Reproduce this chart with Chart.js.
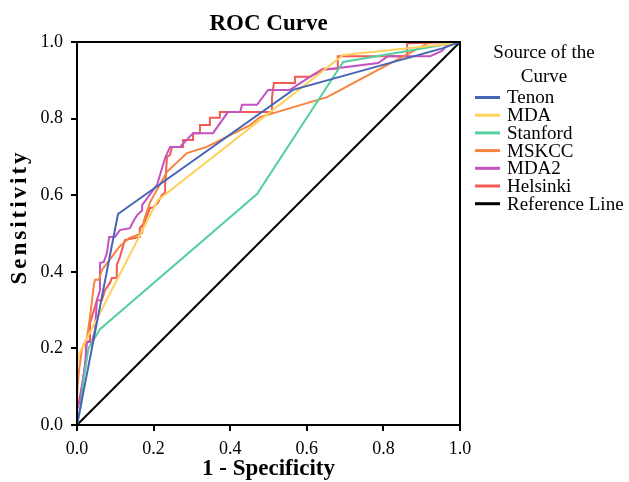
<!DOCTYPE html>
<html>
<head>
<meta charset="utf-8">
<script src="https://cdn.jsdelivr.net/npm/chart.js@4.4.1/dist/chart.umd.min.js"></script>
<style>
  body { margin: 0; background: #fff; }
</style>
</head>
<body>
<canvas id="rocChart" width="629" height="482"></canvas>
<script>
// ROC points as [1 - specificity, sensitivity]
const tenon = [[0, 0], [0.107, 0.551], [0.564, 0.875], [0.956, 0.984], [1, 1]];
const mda = [[0, 0], [0, 0.16], [0.008, 0.191], [0.211, 0.587], [0.695, 0.966], [0.97, 0.995], [1, 1]];
const stanford = [[0, 0], [0.01, 0.05], [0.016, 0.11], [0.03, 0.2], [0.06, 0.25], [0.47, 0.603], [0.695, 0.948], [1, 1]];
const mskcc = [[0, 0], [0, 0.08], [0.005, 0.14], [0.013, 0.2], [0.026, 0.227], [0.034, 0.282], [0.044, 0.366],
  [0.047, 0.379], [0.057, 0.379], [0.065, 0.405], [0.091, 0.439], [0.11, 0.465], [0.136, 0.488], [0.17, 0.501],
  [0.175, 0.535], [0.191, 0.582], [0.235, 0.661], [0.287, 0.71], [0.339, 0.726], [0.452, 0.783], [0.478, 0.804],
  [0.653, 0.856], [0.922, 1.0], [1, 1]];
const mda2 = [[0, 0], [0, 0.039], [0.008, 0.065], [0.013, 0.104], [0.021, 0.157], [0.026, 0.217], [0.039, 0.217],
  [0.047, 0.248], [0.052, 0.326], [0.06, 0.352], [0.06, 0.423], [0.07, 0.426], [0.078, 0.449], [0.084, 0.491],
  [0.099, 0.491], [0.112, 0.509], [0.138, 0.514], [0.149, 0.535], [0.157, 0.548], [0.17, 0.56], [0.17, 0.574],
  [0.209, 0.627], [0.23, 0.697], [0.243, 0.726], [0.269, 0.726], [0.303, 0.762], [0.355, 0.762], [0.394, 0.817],
  [0.426, 0.817], [0.431, 0.836], [0.47, 0.836], [0.499, 0.875], [0.556, 0.875], [0.608, 0.909], [0.642, 0.927],
  [0.786, 0.945], [0.812, 0.963], [0.922, 0.963], [0.953, 0.977], [0.966, 0.992], [1, 1]];
const helsinki = [[0, 0], [0, 0.039], [0.008, 0.078], [0.016, 0.117], [0.023, 0.17], [0.023, 0.214], [0.034, 0.222],
  [0.034, 0.266], [0.052, 0.326], [0.065, 0.326], [0.073, 0.352], [0.086, 0.371], [0.091, 0.384], [0.104, 0.384],
  [0.104, 0.418], [0.112, 0.439], [0.125, 0.483], [0.164, 0.491], [0.164, 0.514], [0.175, 0.527], [0.191, 0.567],
  [0.198, 0.567], [0.211, 0.58], [0.222, 0.601], [0.23, 0.606], [0.23, 0.627], [0.235, 0.7], [0.243, 0.705],
  [0.248, 0.726], [0.277, 0.726], [0.277, 0.744], [0.303, 0.744], [0.303, 0.762], [0.321, 0.762], [0.321, 0.783],
  [0.347, 0.783], [0.347, 0.802], [0.373, 0.802], [0.373, 0.817], [0.509, 0.817], [0.509, 0.854], [0.514, 0.893],
  [0.569, 0.893], [0.569, 0.909], [0.608, 0.909], [0.642, 0.93], [0.681, 0.93], [0.681, 0.963], [0.862, 0.963],
  [0.862, 0.997], [1, 1]];
const referenceLine = [[0, 0], [1, 1]];

const seriesNames = ['Tenon', 'MDA', 'Stanford', 'MSKCC', 'MDA2', 'Helsinki', 'Reference Line'];
const seriesPoints = [tenon, mda, stanford, mskcc, mda2, helsinki, referenceLine];
const seriesColors = ['#4666b5', '#fdd25c', '#55cfa0', '#f7843e', '#c452c0', '#f25a55', '#000000'];
const axisTicks = [0, 0.2, 0.4, 0.6, 0.8, 1.0];

const serif = "'Liberation Serif', 'Times New Roman', serif";

// box around the plot area
const plotBox = {
  id: 'plotBox',
  afterDraw(chart) {
    const a = chart.chartArea;
    const c = chart.ctx;
    c.save();
    c.strokeStyle = '#000';
    c.lineWidth = 2;
    c.strokeRect(a.left, a.top, a.right - a.left, a.bottom - a.top);
    c.restore();
  }
};

// y title drawn by hand, the original is spaced out
const yTitle = {
  id: 'yTitle',
  afterDraw(chart) {
    const c = chart.ctx;
    c.save();
    c.translate(20, 217);
    c.rotate(-Math.PI / 2);
    c.fillStyle = '#000';
    c.font = 'bold 23px ' + serif;
    c.letterSpacing = '3px';
    c.textAlign = 'center';
    c.textBaseline = 'middle';
    c.fillText('Sensitivity', 0, 0);
    c.restore();
  }
};

// legend on the right, with a two line title
const sideLegend = {
  id: 'sideLegend',
  afterDraw(chart) {
    const c = chart.ctx;
    c.save();
    c.fillStyle = '#000';
    c.font = '19px ' + serif;
    c.textAlign = 'center';
    c.textBaseline = 'middle';
    c.fillText('Source of the', 544, 53);
    c.fillText('Curve', 544, 77);
    c.textAlign = 'left';
    chart.data.datasets.forEach((ds, i) => {
      const y = 97.5 + i * 17.7;
      c.strokeStyle = ds.borderColor;
      c.lineWidth = 3;
      c.beginPath();
      c.moveTo(475, y);
      c.lineTo(500, y);
      c.stroke();
      c.fillText(ds.label, 507, y + 1);
    });
    c.restore();
  }
};

const ctx = document.getElementById('rocChart').getContext('2d');
let rocChart = new Chart(ctx, {
  type: 'line',
  data: {
    datasets: seriesNames.map((name, i) => ({
      label: name,
      data: seriesPoints[i].map(p => ({ x: p[0], y: p[1] })),
      borderColor: seriesColors[i],
      backgroundColor: seriesColors[i],
      borderWidth: 2,
      pointRadius: 0,
      tension: 0,
      fill: false
    }))
  },
  options: {
    responsive: false,
    animation: false,
    layout: { padding: { left: 0, right: 169, top: 0, bottom: 0 } },
    plugins: {
      legend: { display: false },
      tooltip: { enabled: false },
      title: {
        display: true,
        fullSize: false,
        text: 'ROC Curve',
        color: '#000',
        font: { family: serif, size: 23, weight: 'bold', lineHeight: 1.2 },
        padding: { top: 10, bottom: 4.4 }
      }
    },
    scales: {
      x: {
        type: 'linear',
        min: 0,
        max: 1,
        afterFit(scale) { scale.height = 57; },
        afterBuildTicks(scale) { scale.ticks = axisTicks.map(v => ({ value: v })); },
        ticks: {
          color: '#000',
          padding: 7,
          font: { family: serif, size: 18 },
          callback: v => v.toFixed(1)
        },
        grid: { drawOnChartArea: false, drawTicks: true, tickLength: 6, color: '#000', lineWidth: 2 },
        border: { display: true, color: '#000', width: 2 },
        title: {
          display: true,
          text: '1 - Specificity',
          color: '#000',
          font: { family: serif, size: 23, weight: 'bold', lineHeight: 1.2 },
          padding: { top: 0, bottom: -1 }
        }
      },
      y: {
        type: 'linear',
        min: 0,
        max: 1,
        afterFit(scale) { scale.width = 77; },
        afterBuildTicks(scale) { scale.ticks = axisTicks.map(v => ({ value: v })); },
        ticks: {
          color: '#000',
          padding: 8,
          font: { family: serif, size: 18 },
          callback: v => v.toFixed(1)
        },
        grid: { drawOnChartArea: false, drawTicks: true, tickLength: 6, color: '#000', lineWidth: 2 },
        border: { display: true, color: '#000', width: 2 },
        title: { display: false }
      }
    }
  },
  plugins: [plotBox, yTitle, sideLegend]
});
</script>
</body>
</html>
